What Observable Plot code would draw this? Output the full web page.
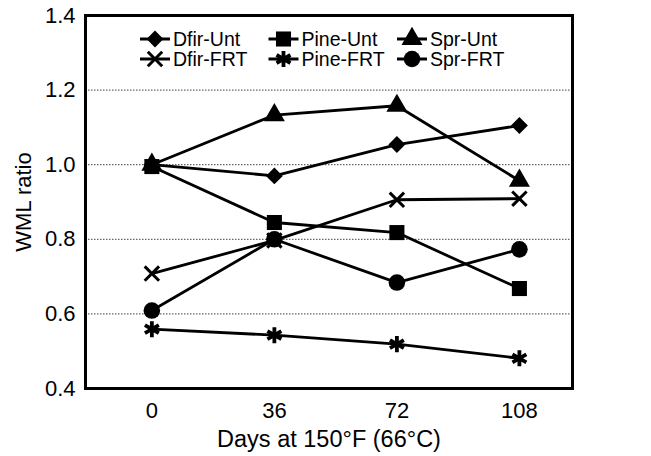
<!DOCTYPE html>
<html>
<head>
<meta charset="utf-8">
<script src="https://cdn.jsdelivr.net/npm/d3@7"></script>
<script src="https://cdn.jsdelivr.net/npm/@observablehq/plot@0.6"></script>
<style>
  html, body { margin: 0; padding: 0; background: #fff; }
  #wrap { position: relative; width: 651px; height: 456px; }
  #legend { position: absolute; left: 0; top: 0; pointer-events: none; }
  g[aria-label="x-axis label"] text { font-size: 23.5px; }
</style>
</head>
<body>
<div id="wrap"></div>
<script>
// ---- data ----
const days = [0, 36, 72, 108];
const seriesNames = ["Dfir-Unt", "Pine-Unt", "Spr-Unt", "Dfir-FRT", "Pine-FRT", "Spr-FRT"];
const dfirUnt = [1.0, 0.97, 1.054, 1.105];
const pineUnt = [0.995, 0.845, 0.818, 0.668];
const sprUnt  = [1.0, 1.133, 1.158, 0.957];
const dfirFrt = [0.708, 0.797, 0.906, 0.909];
const pineFrt = [0.559, 0.543, 0.519, 0.481];
const sprFrt  = [0.609, 0.80, 0.684, 0.773];
const yTicks = [0.4, 0.6, 0.8, 1.0, 1.2, 1.4];
const gridValues = [0.6, 0.8, 1.0, 1.2];
const xLabel = "Days at 150°F (66°C)";
const yLabel = "WML ratio";

// ---- styling (not data) ----
const symbolNames = ["diamond2", "square", "triangle", "times", "asterisk", "circle"];
const symbolRadius = {"diamond2": 7.6, "square": 8.5, "triangle": 7.8, "times": 6.6, "asterisk": 7.6, "circle": 8.3};
const strokeSymbols = new Set(["times", "asterisk"]);
const symbolStroke = {"times": 3, "asterisk": 3.8};
const FONT = "'Liberation Sans', Arial, Helvetica, sans-serif";

const seriesValues = [dfirUnt, pineUnt, sprUnt, dfirFrt, pineFrt, sprFrt];
const data = seriesNames.flatMap((s, i) =>
  days.map((d, j) => ({series: s, day: d, value: seriesValues[i][j], sym: symbolNames[i]})));

const dotMarks = symbolNames.map(sym => {
  const isStroke = strokeSymbols.has(sym);
  return Plot.dot(data.filter(d => d.sym === sym), {
    x: "day", y: "value", symbol: "series", r: symbolRadius[sym],
    fill: isStroke ? "none" : "black",
    stroke: isStroke ? "black" : "none",
    strokeWidth: isStroke ? symbolStroke[sym] : 0
  });
});

const chart = Plot.plot({
  width: 651,
  height: 456,
  marginLeft: 85,
  marginRight: 79,
  marginTop: 15,
  marginBottom: 68,
  style: {fontFamily: FONT, fontSize: "22px", color: "black", background: "white", overflow: "visible"},
  x: {domain: [-19.5, 123.6]},
  y: {domain: [0.4, 1.4]},
  symbol: {domain: seriesNames, range: symbolNames},
  marks: [
    Plot.ruleY(gridValues, {stroke: "#666", strokeWidth: 1.2, strokeDasharray: "1.5,1.5"}),
    Plot.axisY({ticks: yTicks, tickFormat: d3.format(".1f"), tickSize: 0, tickPadding: 10,
      label: yLabel, labelAnchor: "center", labelOffset: 70, labelArrow: false, fontSize: 22}),
    Plot.axisX({ticks: days, tickSize: 0, tickPadding: 14, tickFormat: d => String(d),
      label: xLabel, labelAnchor: "center", labelOffset: 58, labelArrow: false, fontSize: 22}),
    Plot.line(data, {x: "day", y: "value", z: "series", stroke: "black", strokeWidth: 2.8}),
    ...dotMarks,
    Plot.frame({stroke: "black", strokeWidth: 3})
  ]
});

const wrap = document.getElementById("wrap");
wrap.appendChild(chart);

// ---- legend overlay (inside the plot frame, top) ----
const d3Symbols = {
  "diamond2": d3.symbolDiamond2, "square": d3.symbolSquare, "triangle": d3.symbolTriangle,
  "times": d3.symbolTimes, "asterisk": d3.symbolAsterisk, "circle": d3.symbolCircle
};
const legendCols = 3, colStart = 140, colStep = 128.5, rowStart = 39, rowStep = 20;
const svg = d3.select(wrap).append("svg")
  .attr("id", "legend").attr("width", 651).attr("height", 456);
seriesNames.forEach((name, i) => {
  const c = i % legendCols, r = Math.floor(i / legendCols);
  const x0 = colStart + c * colStep, y0 = rowStart + r * rowStep;
  const g = svg.append("g").attr("transform", `translate(${x0},${y0})`);
  g.append("line").attr("x1", 0).attr("x2", 30).attr("y1", 0).attr("y2", 0)
    .attr("stroke", "black").attr("stroke-width", 3);
  const sym = symbolNames[i];
  const rr = symbolRadius[sym];
  const isStroke = strokeSymbols.has(sym);
  g.append("path")
    .attr("transform", "translate(15,0)")
    .attr("d", d3.symbol(d3Symbols[sym], Math.PI * rr * rr)())
    .attr("fill", isStroke ? "none" : "black")
    .attr("stroke", isStroke ? "black" : "none")
    .attr("stroke-width", isStroke ? symbolStroke[sym] : 0);
  g.append("text").attr("x", 33).attr("y", 7)
    .attr("font-family", FONT).attr("font-size", 19.5).attr("fill", "black")
    .text(name);
});
</script>
</body>
</html>
